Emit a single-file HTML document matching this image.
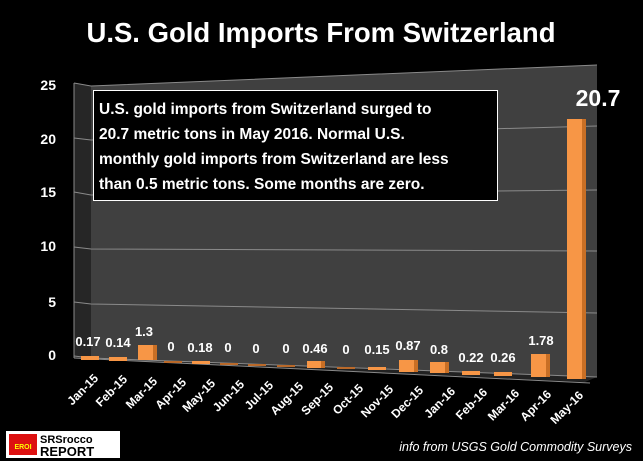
<!DOCTYPE html>
<html><head><meta charset="utf-8"><style>
html,body{margin:0;padding:0;background:#000;}
svg{display:block;font-family:"Liberation Sans",sans-serif;}
</style></head><body>
<svg width="643" height="461" viewBox="0 0 643 461" xmlns="http://www.w3.org/2000/svg">
<rect width="643" height="461" fill="#000"/>
<text x="321" y="42" text-anchor="middle" fill="#fff" font-size="27.5" font-weight="bold">U.S. Gold Imports From Switzerland</text>
<polygon points="74,83 91,86 91,358 74,356" fill="#262626"/>
<polygon points="91,86 597,65 597,377 91,358" fill="#404040"/>
<polygon points="74,356 91,358 597,377 585,382 74,358" fill="#222"/>
<g stroke="#8a8a8a" stroke-width="1" fill="none">
<polyline points="74,83 91,86 597,65"/>
<polyline points="74,138 91,140 597,126"/>
<polyline points="74,192 91,195 597,190"/>
<polyline points="74,247 91,249 597,251"/>
<polyline points="74,302 91,304 597,313"/>
<polyline points="74,356 91,358 597,377"/>
<line x1="74" y1="83" x2="74" y2="358"/>
<line x1="74" y1="358" x2="590" y2="383"/>
</g>
<g fill="#fff" font-size="14" font-weight="bold" text-anchor="end">
<text x="56" y="90">25</text><text x="56" y="144">20</text><text x="56" y="197">15</text>
<text x="56" y="251">10</text><text x="56" y="307">5</text><text x="56" y="360">0</text>
</g>
<g>
<rect x="81" y="356" width="18" height="4" fill="#f79646"/>
<rect x="109" y="357" width="18" height="4" fill="#f79646"/>
<rect x="138" y="345" width="19" height="15" fill="#f79646"/><rect x="153" y="345" width="4" height="15" fill="#c96f25"/>
<rect x="164" y="361" width="18" height="2" fill="#b9692a"/>
<rect x="192" y="361" width="18" height="3" fill="#f79646"/>
<rect x="220" y="363" width="18" height="2" fill="#b9692a"/>
<rect x="248" y="364" width="18" height="2" fill="#b9692a"/>
<rect x="277" y="365" width="18" height="2" fill="#b9692a"/>
<rect x="307" y="361" width="18" height="7" fill="#f79646"/><rect x="321" y="361" width="4" height="7" fill="#c96f25"/>
<rect x="337" y="367" width="18" height="2" fill="#b9692a"/>
<rect x="368" y="367" width="18" height="3" fill="#f79646"/>
<rect x="399" y="360" width="19" height="12" fill="#f79646"/><rect x="414" y="360" width="4" height="12" fill="#c96f25"/>
<rect x="430" y="362" width="19" height="11" fill="#f79646"/><rect x="445" y="362" width="4" height="11" fill="#c96f25"/>
<rect x="462" y="371" width="18" height="4" fill="#f79646"/>
<rect x="494" y="372" width="18" height="4" fill="#f79646"/>
<rect x="531" y="354" width="19" height="23" fill="#f79646"/><rect x="546" y="354" width="4" height="23" fill="#c96f25"/>
<rect x="567" y="119" width="19" height="260" fill="#f79646"/><rect x="582" y="119" width="4" height="260" fill="#c96f25"/>
</g>
<g fill="#fff" font-size="13" font-weight="bold" text-anchor="middle">
<text x="88" y="346">0.17</text><text x="118" y="347">0.14</text><text x="144" y="336">1.3</text>
<text x="171" y="351">0</text><text x="200" y="352">0.18</text><text x="228" y="352">0</text>
<text x="256" y="353">0</text><text x="286" y="353">0</text><text x="315" y="353">0.46</text>
<text x="346" y="354">0</text><text x="377" y="354">0.15</text><text x="408" y="350">0.87</text>
<text x="439" y="354">0.8</text><text x="471" y="362">0.22</text><text x="503" y="362">0.26</text>
<text x="541" y="345">1.78</text>
</g>
<text x="598" y="106" fill="#fff" font-size="23" font-weight="bold" text-anchor="middle">20.7</text>
<g fill="#fff" font-size="12" font-weight="bold" text-anchor="end">
<text transform="translate(99,379) rotate(-45)">Jan-15</text>
<text transform="translate(128,380) rotate(-45)">Feb-15</text>
<text transform="translate(158,382) rotate(-45)">Mar-15</text>
<text transform="translate(187,383) rotate(-45)">Apr-15</text>
<text transform="translate(216,384) rotate(-45)">May-15</text>
<text transform="translate(245,385) rotate(-45)">Jun-15</text>
<text transform="translate(274,386) rotate(-45)">Jul-15</text>
<text transform="translate(304,387) rotate(-45)">Aug-15</text>
<text transform="translate(334,388) rotate(-45)">Sep-15</text>
<text transform="translate(364,389) rotate(-45)">Oct-15</text>
<text transform="translate(394,390) rotate(-45)">Nov-15</text>
<text transform="translate(424,391) rotate(-45)">Dec-15</text>
<text transform="translate(456,392) rotate(-45)">Jan-16</text>
<text transform="translate(488,393) rotate(-45)">Feb-16</text>
<text transform="translate(520,394) rotate(-45)">Mar-16</text>
<text transform="translate(552,395) rotate(-45)">Apr-16</text>
<text transform="translate(584,396) rotate(-45)">May-16</text>
</g>
<rect x="93.5" y="90.5" width="404" height="110" fill="#000" stroke="#fff" stroke-width="1"/>
<g fill="#fff" font-size="15.5" font-weight="bold">
<text x="99" y="114">U.S. gold imports from Switzerland surged to</text>
<text x="99" y="139">20.7 metric tons in May 2016.  Normal U.S.</text>
<text x="99" y="164">monthly gold imports from Switzerland are less</text>
<text x="99" y="189">than 0.5 metric tons.  Some months are zero.</text>
</g>
<rect x="6" y="431" width="114" height="27" fill="#fff"/>
<rect x="9" y="434" width="28" height="21" fill="#d11"/>
<text x="23" y="449" fill="#ff0" font-size="7" font-weight="bold" text-anchor="middle">EROI</text>
<text x="40" y="443" fill="#000" font-size="11" font-weight="bold">SRSrocco</text>
<text x="40" y="456" fill="#000" font-size="13" font-weight="bold">REPORT</text>
<text x="632" y="451" fill="#fff" font-size="12.5" font-style="italic" text-anchor="end">info from USGS Gold Commodity Surveys</text>
</svg>
</body></html>
